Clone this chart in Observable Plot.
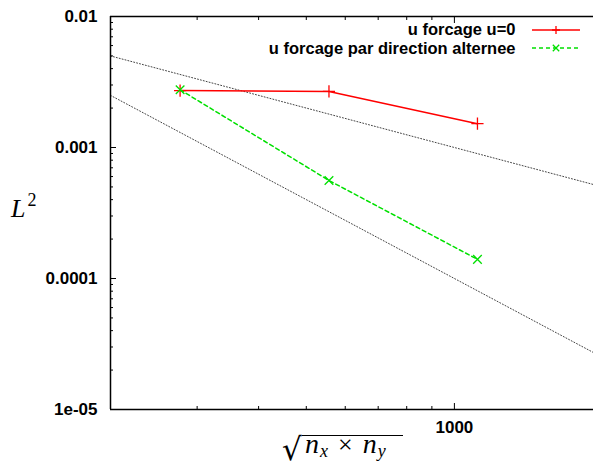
<!DOCTYPE html>
<html><head><meta charset="utf-8">
<script src="https://cdn.jsdelivr.net/npm/d3@7"></script>
<script src="https://cdn.jsdelivr.net/npm/@observablehq/plot@0.6"></script>
<style>body{margin:0;background:#fff}</style>
</head><body><div id="chart"></div>
<script>
// ---- data ----
const seriesNames = ["u forcage u=0", "u forcage par direction alternee"];
const seriesColors = ["#ff0000", "#00e000"];
const xValues = [277, 556, 1114];
const errU0 = [0.00272, 0.00268, 0.00152];
const errAlt = [0.00276, 0.00056, 0.000140];
const refX = [200, 2000];
const refOrder1Coef = 1;    // y = 1 / x
const refOrder2Coef = 100;  // y = 100 / x^2
const xDomain = [200, 2000];
const yDomain = [1e-5, 0.01];
const xTickValues = [1000];
const xTickLabels = ["1000"];
const xMinorTicks = [300, 400, 500, 600, 700, 800, 900];
const yTickValues = [1e-5, 1e-4, 1e-3, 1e-2];
const yTickLabels = ["1e-05", "0.0001", "0.001", "0.01"];

const yMinorTicks = [];
for (let e = -5; e < -2; e++) for (let m = 2; m <= 9; m++) yMinorTicks.push(m * Math.pow(10, e));

const redData = xValues.map((x, i) => ({x, y: errU0[i]}));
const greenData = xValues.map((x, i) => ({x, y: errAlt[i]}));
const ref1 = refX.map(x => ({x, y: refOrder1Coef / x}));
const ref2 = refX.map(x => ({x, y: refOrder2Coef / (x * x)}));

const yLabelMap = new Map(yTickValues.map((v, i) => [v, yTickLabels[i]]));
const xLabelMap = new Map(xTickValues.map((v, i) => [v, xTickLabels[i]]));

const W = 593, H = 466, ML = 110, MT = 16, MB = 57;
const tickFont = {fontSize: 17, fontWeight: "bold", fontFamily: "Liberation Sans, Arial, sans-serif"};

const chart = Plot.plot({
  width: W, height: H,
  marginLeft: ML, marginTop: MT, marginBottom: MB, marginRight: 0,
  style: {background: "white", color: "black", fontFamily: "Liberation Sans, Arial, sans-serif"},
  x: {type: "log", domain: xDomain, range: [ML, ML + 492]},
  y: {type: "log", domain: yDomain, range: [H - MB, MT]},
  marks: [
    // reference slopes
    Plot.line(ref1, {x: "x", y: "y", stroke: "#444", strokeWidth: 1, strokeDasharray: "1,2", clip: true}),
    Plot.line(ref2, {x: "x", y: "y", stroke: "#444", strokeWidth: 1, strokeDasharray: "1,2", clip: true}),
    // series
    Plot.line(redData, {x: "x", y: "y", stroke: seriesColors[0], strokeWidth: 1.5}),
    Plot.dot(redData, {x: "x", y: "y", symbol: "plus", r: 4, stroke: seriesColors[0], strokeWidth: 1.3}),
    Plot.line(greenData, {x: "x", y: "y", stroke: seriesColors[1], strokeWidth: 1.5, strokeDasharray: "4,3"}),
    Plot.dot(greenData, {x: "x", y: "y", symbol: "times", r: 4, stroke: seriesColors[1], strokeWidth: 1.3}),
    // ticks (inward)
    Plot.axisY(yMinorTicks, {anchor: "left", tickSize: -3, fill: "none", label: null}),
    Plot.axisY(yTickValues, {anchor: "left", tickSize: -6, tickPadding: 19, tickFormat: d => yLabelMap.get(d), label: null, ...tickFont}),
    Plot.axisX(xMinorTicks, {anchor: "bottom", tickSize: -3, fill: "none", label: null}),
    Plot.axisX(xTickValues, {anchor: "bottom", tickSize: -6, tickPadding: 17, tickFormat: d => xLabelMap.get(d), label: null, ...tickFont}),
    Plot.axisX(xMinorTicks, {anchor: "top", tickSize: -3, fill: "none", label: null}),
    Plot.axisX(xTickValues, {anchor: "top", tickSize: -6, fill: "none", label: null}),
    // border
    Plot.ruleY([yDomain[0], yDomain[1]], {stroke: "black", strokeWidth: 1.5}),
    Plot.ruleX([xDomain[0]], {stroke: "black", strokeWidth: 1.5}),
    // legend text
    Plot.text([seriesNames[0]], {text: d => d, frameAnchor: "top-right", dx: -78, dy: 13, textAnchor: "end", lineAnchor: "middle", fontSize: 16.5, fontWeight: "bold", fill: "black"}),
    Plot.text([seriesNames[1]], {text: d => d, frameAnchor: "top-right", dx: -78, dy: 32, textAnchor: "end", lineAnchor: "middle", fontSize: 16.5, fontWeight: "bold", fill: "black"})
  ]
});
document.getElementById("chart").appendChild(chart);

const svg = d3.select(chart);
// legend samples
const legY = [30, 48];
legY.forEach((y, i) => {
  const g = svg.append("g");
  g.append("line").attr("x1", 532).attr("x2", 580).attr("y1", y).attr("y2", y)
    .attr("stroke", seriesColors[i]).attr("stroke-width", 1.5)
    .attr("stroke-dasharray", i === 1 ? "4,3" : null);
  const s = 4;
  if (i === 0) {
    g.append("path").attr("d", `M${556 - s},${y}H${556 + s}M556,${y - s}V${y + s}`).attr("stroke", seriesColors[i]).attr("stroke-width", 1.3);
  } else {
    g.append("path").attr("d", `M${556 - s*0.8},${y - s*0.8}L${556 + s*0.8},${y + s*0.8}M${556 - s*0.8},${y + s*0.8}L${556 + s*0.8},${y - s*0.8}`).attr("stroke", seriesColors[i]).attr("stroke-width", 1.3);
  }
});

// y label L^2
const yl = svg.append("text").attr("x", 11).attr("y", 217).attr("text-anchor", "start")
  .style("font-family", "Liberation Serif, serif").style("font-size", "26px").attr("fill", "black");
yl.append("tspan").style("font-style", "italic").text("L");
yl.append("tspan").attr("dx", 2).attr("dy", -11).style("font-size", "18px").text("2");

// x label sqrt(n_x × n_y)
const xl = svg.append("text").attr("x", 305).attr("y", 453).attr("text-anchor", "start")
  .style("font-family", "Liberation Serif, serif").style("font-size", "28px").attr("fill", "black");
xl.append("tspan").style("font-style", "italic").text("n");
xl.append("tspan").attr("dx", 1).attr("dy", 4).style("font-style", "italic").style("font-size", "18px").text("x");
xl.append("tspan").attr("dy", -4).attr("dx", 10).style("font-size", "26px").text("×");
xl.append("tspan").attr("dx", 10).style("font-style", "italic").text("n");
xl.append("tspan").attr("dx", 1).attr("dy", 4).style("font-style", "italic").style("font-size", "18px").text("y");
const bb = xl.node().getBBox();
svg.append("text").attr("x", 282).attr("y", 460).attr("text-anchor", "start")
  .style("font-family", "DejaVu Serif, serif").style("font-size", "31px").attr("fill", "black").text("√");
svg.append("line").attr("x1", 302).attr("x2", Math.max(403, bb.x + bb.width + 1)).attr("y1", 435.5).attr("y2", 435.5)
  .attr("stroke", "black").attr("stroke-width", 1.2);
</script>
</body></html>
